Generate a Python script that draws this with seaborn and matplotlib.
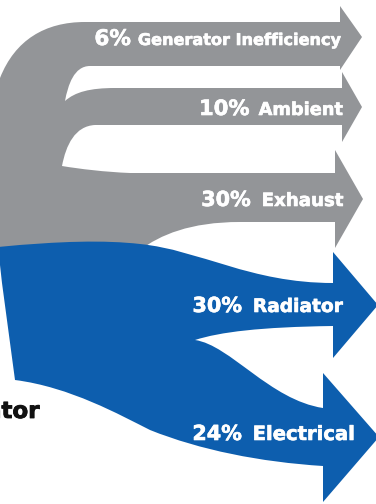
import matplotlib
matplotlib.use("Agg")
import matplotlib.pyplot as plt
from matplotlib.path import Path
from matplotlib.patches import PathPatch
import matplotlib.patheffects as pe
import seaborn as sns

# ---- data ----
flow_labels = ["Generator Inefficiency", "Ambient", "Exhaust", "Radiator", "Electrical"]
flow_percents = [6, 10, 30, 30, 24]
flow_groups = ["loss", "loss", "loss", "cooling", "cooling"]
source_label = "Generator"

# ---- style ----
sns.set_theme(style="white")
plt.rcParams["font.family"] = ["DejaVu Sans"]
group_colors = {"loss": "#939598", "cooling": "#0d5eae"}

# label layout (right edge x, baseline y, name size pt, pct size pt, gap px)
label_right = [342, 343, 343, 343, 355]
label_base = [45, 115, 206, 312, 440]
name_size = [11.6, 12.8, 13.1, 13.4, 14.1]
pct_size = [15.5, 15.2, 14.9, 14.9, 14.9]
label_gap = [7, 9, 11, 11, 11]

W, H = 376, 504
fig = plt.figure(figsize=(W / 100, H / 100), dpi=100)
ax = fig.add_axes([0, 0, 1, 1])
ax.set_xlim(0, W)
ax.set_ylim(H, 0)
ax.axis("off")

M, L, C = "M", "L", "C"


def build(cmds):
    verts, codes = [], []
    for c in cmds:
        if c[0] == M:
            verts.append(c[1]); codes.append(Path.MOVETO)
        elif c[0] == L:
            verts.append(c[1]); codes.append(Path.LINETO)
        else:
            verts += [c[1], c[2], c[3]]
            codes += [Path.CURVE4] * 3
    verts.append(verts[0]); codes.append(Path.CLOSEPOLY)
    return Path(verts, codes)


gray_path = build([
    (M, (0, 78)),
    (C, (15, 40), (45, 22), (85, 22)),
    (L, (340, 22)), (L, (340, 6)), (L, (362, 37)), (L, (340, 70)), (L, (340, 66)),
    (L, (90, 66)),
    (C, (74, 66), (68, 85), (65, 101)),
    (C, (75, 92), (90, 88), (115, 88)),
    (L, (342, 88)), (L, (342, 72)), (L, (362, 107)), (L, (342, 142)), (L, (342, 125)),
    (L, (95, 125)),
    (C, (75, 126), (66, 145), (62, 166)),
    (C, (80, 169), (105, 172), (130, 173)),
    (L, (335, 173)), (L, (335, 150)), (L, (363, 199)), (L, (335, 248)), (L, (335, 222)),
    (L, (240, 222)),
    (C, (190, 222), (160, 235), (140, 250)),
    (L, (-2, 256)),
    (L, (-2, 78)),
])

blue_path = build([
    (M, (-2, 247)),
    (C, (60, 241), (105, 240), (140, 244)),
    (C, (200, 250), (250, 283), (333, 283)),
    (L, (333, 252)), (L, (378, 305)), (L, (333, 358)), (L, (333, 326)),
    (C, (260, 327), (220, 332), (195, 340)),
    (C, (230, 345), (270, 400), (323, 408)),
    (L, (323, 373)), (L, (379, 437)), (L, (323, 502)), (L, (323, 466)),
    (C, (260, 462), (200, 450), (150, 430)),
    (C, (120, 415), (70, 387), (15, 380)),
    (L, (2, 283)),
])

ax.add_patch(PathPatch(gray_path, facecolor=group_colors["loss"], edgecolor="none", zorder=1))
ax.add_patch(PathPatch(blue_path, facecolor=group_colors["cooling"], edgecolor="none", zorder=2))

white_fx = [pe.withStroke(linewidth=0.45, foreground="white")]
renderer = fig.canvas.get_renderer()
inv = ax.transData.inverted()
for i, (name, pct) in enumerate(zip(flow_labels, flow_percents)):
    t = ax.text(label_right[i], label_base[i], name, ha="right", va="baseline",
                color="white", fontsize=name_size[i], fontweight="bold", zorder=5,
                path_effects=white_fx)
    bb = t.get_window_extent(renderer=renderer)
    x0 = inv.transform((bb.x0, bb.y0))[0]
    ax.text(x0 - label_gap[i], label_base[i], f"{pct}%", ha="right", va="baseline",
            color="white", fontsize=pct_size[i], fontweight="bold", zorder=5,
            path_effects=white_fx)

ax.text(39, 418, source_label, ha="right", va="baseline", color="#111111",
        fontsize=16.5, fontweight="bold", zorder=5,
        path_effects=[pe.withStroke(linewidth=0.6, foreground="#111111")])

fig.savefig("out.png", dpi=100, facecolor="white")
